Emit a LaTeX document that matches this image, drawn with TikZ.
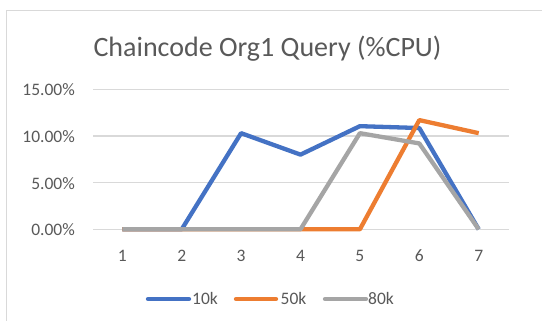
\documentclass[tikz,border=0pt]{standalone}
\usepackage{fontspec}
\setmainfont{Carlito}
\definecolor{txtgray}{HTML}{595959}
\definecolor{gridgray}{HTML}{D9D9D9}
\definecolor{sblue}{HTML}{4472C4}
\definecolor{sorange}{HTML}{ED7D31}
\definecolor{sgray}{HTML}{A5A5A5}
\begin{document}
\begin{tikzpicture}[x=1pt,y=-1pt,
  frame/.style={draw=gridgray,line width=1.6pt},
  gridline/.style={draw=gridgray,line width=1.3pt},
  series/.style={line width=4.3pt,line join=round},
  ticklabel/.style={text=txtgray,font=\fontsize{17.5}{20}\selectfont,inner sep=0pt},
  titletext/.style={text=txtgray,font=\fontsize{28}{32}\selectfont,inner sep=0pt},
  legendline/.style={line width=4.3pt,line cap=round}]
\useasboundingbox (0,0) rectangle (542,321);
\fill[white] (0,0) rectangle (542,321);
% chart area border (left and top edges)
\draw[frame] (6.5,330) |- (550,10.5);
% title
\node[titletext,anchor=base] (title) at (267.5,57) {Chaincode Org1 Query (\%CPU)};
% horizontal gridlines and value labels
\foreach \v/\lab [count=\i] in {0/0.00\%,5/5.00\%,10/10.00\%,15/15.00\%}{
  \pgfmathsetmacro{\yy}{229.3-\v*9.333}
  \draw[gridline] (93,\yy) -- (509,\yy);
  \node[ticklabel,anchor=base east] (ylab\i) at (75,\yy+6.5) {\lab};
}
% category labels
\foreach \k in {1,...,7}{
  \node[ticklabel,anchor=base] (xlab\k) at ({122.3+(\k-1)*59.4},261.5) {\k};
}
% data points: P<series><category>
\def\px#1{122.3+(#1-1)*59.4}
\foreach \k/\v in {1/0,2/0,3/10.3,4/8.0,5/11.05,6/10.85,7/0}{
  \coordinate (A\k) at ({\px{\k}},{229.3-\v*9.333});}
\foreach \k/\v in {1/0,2/0,3/0,4/0,5/0,6/11.7,7/10.3}{
  \coordinate (B\k) at ({\px{\k}},{229.3-\v*9.333});}
\foreach \k/\v in {1/0,2/0,3/0,4/0,5/10.3,6/9.2,7/0}{
  \coordinate (C\k) at ({\px{\k}},{229.3-\v*9.333});}
\draw[series,sblue] (A1) -- (A2) -- (A3) -- (A4) -- (A5) -- (A6) -- (A7);
\draw[series,sorange] (B1) -- (B2) -- (B3) -- (B4) -- (B5) -- (B6) -- (B7);
\draw[series,sgray] (C1) -- (C2) -- (C3) -- (C4) -- (C5) -- (C6) -- (C7);
% legend
\coordinate (L1a) at (148,299); \coordinate (L1b) at (189,299);
\coordinate (L2a) at (236,299); \coordinate (L2b) at (276,299);
\coordinate (L3a) at (325,299); \coordinate (L3b) at (366,299);
\draw[legendline,sblue] (L1a) -- (L1b);
\draw[legendline,sorange] (L2a) -- (L2b);
\draw[legendline,sgray] (L3a) -- (L3b);
\node[ticklabel,anchor=base west] (leg1) at (192,305) {10k};
\node[ticklabel,anchor=base west] (leg2) at (280.5,305) {50k};
\node[ticklabel,anchor=base west] (leg3) at (368,305) {80k};
\end{tikzpicture}
\end{document}
